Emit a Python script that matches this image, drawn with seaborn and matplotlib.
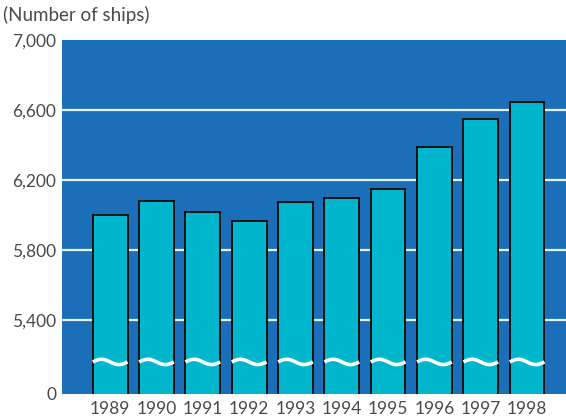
import numpy as np
import pandas as pd
import matplotlib

matplotlib.use("Agg")
import matplotlib.pyplot as plt
import seaborn as sns

years = ["1989", "1990", "1991", "1992", "1993", "1994", "1995", "1996", "1997", "1998"]
ships = [6000, 6080, 6020, 5970, 6075, 6100, 6150, 6390, 6550, 6645]

ytick_values = [4980, 5400, 5800, 6200, 6600, 7000]
ytick_labels = ["0", "5,400", "5,800", "6,200", "6,600", "7,000"]

BG = "#1b6fb8"
BAR = "#00b6cc"
TEXT = "#4a4a4a"
BREAK_AT = 5163

sns.set_theme(style="white")
plt.rcParams["font.family"] = ["Lato", "DejaVu Sans"]

df = pd.DataFrame({"year": years, "ships": ships})

fig = plt.figure(figsize=(5.66, 4.18), dpi=100)
ax = fig.add_axes([62 / 566, 24 / 418, 504 / 566, 354 / 418])
ax.set_facecolor(BG)

sns.barplot(
    data=df, x="year", y="ships", color=BAR, saturation=1,
    width=0.75, edgecolor="#111111", linewidth=1.4, ax=ax, zorder=3,
)

for y in ytick_values[1:-1]:
    ax.axhline(y, color="white", linewidth=1.6, alpha=0.9, zorder=1)

# axis-break wave on every bar
half = 0.75 / 2
t = np.linspace(0, 1, 60)
for i in range(len(years)):
    xs = i - half + t * 0.75
    ys = BREAK_AT + 15 * np.sin(2 * np.pi * t)
    ax.plot(xs, ys, color="white", linewidth=2.6, zorder=4, solid_capstyle="butt")

ax.set_xlim(-1.04, 9.84)
ax.set_ylim(4980, 7000)
ax.set_yticks(ytick_values)
ax.set_yticklabels(ytick_labels)
ax.set_xlabel("")
ax.set_ylabel("")
ax.tick_params(axis="y", length=0, labelsize=12.5, labelcolor=TEXT, pad=4)
ax.tick_params(axis="x", length=0, labelsize=12.5, labelcolor=TEXT, pad=5)
for s in ax.spines.values():
    s.set_visible(False)

fig.text(3 / 566, 1 - 6 / 418, "(Number of ships)", ha="left", va="top",
         fontsize=13.5, color=TEXT)

fig.savefig("out.png", dpi=100)
plt.close(fig)
